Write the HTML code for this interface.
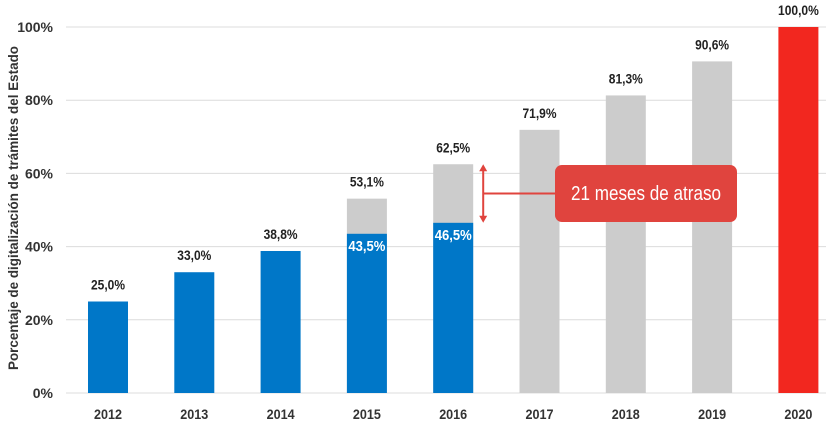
<!DOCTYPE html>
<html><head><meta charset="utf-8"><style>
body{margin:0;background:#fff;}
svg text{font-family:"Liberation Sans Narrow","Liberation Sans",sans-serif;font-weight:bold;}
</style></head><body>
<svg id="chart" width="826" height="432" xmlns="http://www.w3.org/2000/svg"></svg>
<script>
const years=["2012","2013","2014","2015","2016","2017","2018","2019","2020"];
const actual=[25.0,33.0,38.8,43.5,46.5,null,null,null,null];
const planned=[null,null,null,53.1,62.5,71.9,81.3,90.6,null];
const target=[null,null,null,null,null,null,null,null,100.0];
const yTicks=[0,20,40,60,80,100];
const callout="21 meses de atraso";

const NS="http://www.w3.org/2000/svg";
const svg=document.getElementById('chart');
const y0=393,y100=27,x0=66,x1=826;
const yS=v=>y0-(y0-y100)*v/100;
const step=86.3,bw=40;
const xC=i=>108+i*step;
const fmt=v=>v.toFixed(1).replace('.',',')+'%';
function mk(tag,attrs,parent){const e=document.createElementNS(NS,tag);for(const k in attrs)e.setAttribute(k,attrs[k]);(parent||svg).appendChild(e);return e;}

yTicks.forEach(t=>{
  const l=mk('line',{x1:x0,x2:x1,y1:yS(t),y2:yS(t),stroke:'#dcdcdc','stroke-width':1});
  
  
  const tx=mk('text',{x:53,y:yS(t)+5,'text-anchor':'end','font-size':14,fill:'#333'});
  tx.textContent=t+'%';
  
  
});
const yt=mk('text',{transform:'translate(18,208) rotate(-90)','text-anchor':'middle','font-size':14,fill:'#333',textLength:324,lengthAdjust:'spacingAndGlyphs'});
yt.textContent='Porcentaje de digitalización de trámites del Estado';



years.forEach((yr,i)=>{
  const cx=xC(i);
  const xt=mk('text',{x:cx,y:419,'text-anchor':'middle','font-size':14,fill:'#333',textLength:28,lengthAdjust:'spacingAndGlyphs'});
  xt.textContent=yr;
  
  
  let top=null;
  if(planned[i]!=null){
    const r=mk('rect',{x:cx-bw/2,y:yS(planned[i]),width:bw,height:y0-yS(planned[i]),fill:'#cccccc'});
    
    
    top=planned[i];
  }
  if(target[i]!=null){
    const r=mk('rect',{x:cx-bw/2,y:yS(target[i]),width:bw,height:y0-yS(target[i]),fill:'#f2271f'});
    
    
    top=target[i];
  }
  if(actual[i]!=null){
    const r=mk('rect',{x:cx-bw/2,y:yS(actual[i]),width:bw,height:y0-yS(actual[i]),fill:'#0077c8'});
    
    
    if(top!=null){
      const t=mk('text',{x:cx,y:yS(actual[i])+17,'text-anchor':'middle','font-size':15,fill:'#fff',textLength:37,lengthAdjust:'spacingAndGlyphs'});
      t.textContent=fmt(actual[i]);
      
      
    } else top=actual[i];
  }
  const s=fmt(top);
  const t=mk('text',{x:cx,y:yS(top)-12,'text-anchor':'middle','font-size':14,fill:'#222',textLength:s.length*6.8,lengthAdjust:'spacingAndGlyphs'});
  t.textContent=s;
  
  
});

// callout
const ax=xC(4)+30, aT=yS(planned[4]), aB=yS(actual[4]);
const g=mk('g',{});


mk('line',{x1:ax,x2:ax,y1:aT+4,y2:aB-4,stroke:'#e0443e','stroke-width':2},g);
mk('polygon',{points:`${ax-4},${aT+7} ${ax+4},${aT+7} ${ax},${aT}`,fill:'#e0443e'},g);
mk('polygon',{points:`${ax-4},${aB-7} ${ax+4},${aB-7} ${ax},${aB}`,fill:'#e0443e'},g);
const my=(aT+aB)/2;
mk('line',{x1:ax,x2:556,y1:my,y2:my,stroke:'#e0443e','stroke-width':2},g);
mk('rect',{x:555,y:165,width:182,height:57,rx:7,fill:'#e0443e'},g);
const ct=mk('text',{x:646,y:200,'text-anchor':'middle','font-size':20,fill:'#fff',textLength:150,lengthAdjust:'spacingAndGlyphs'},g);
ct.setAttribute('style','font-weight:normal');
ct.textContent=callout;
</script>
</body></html>
